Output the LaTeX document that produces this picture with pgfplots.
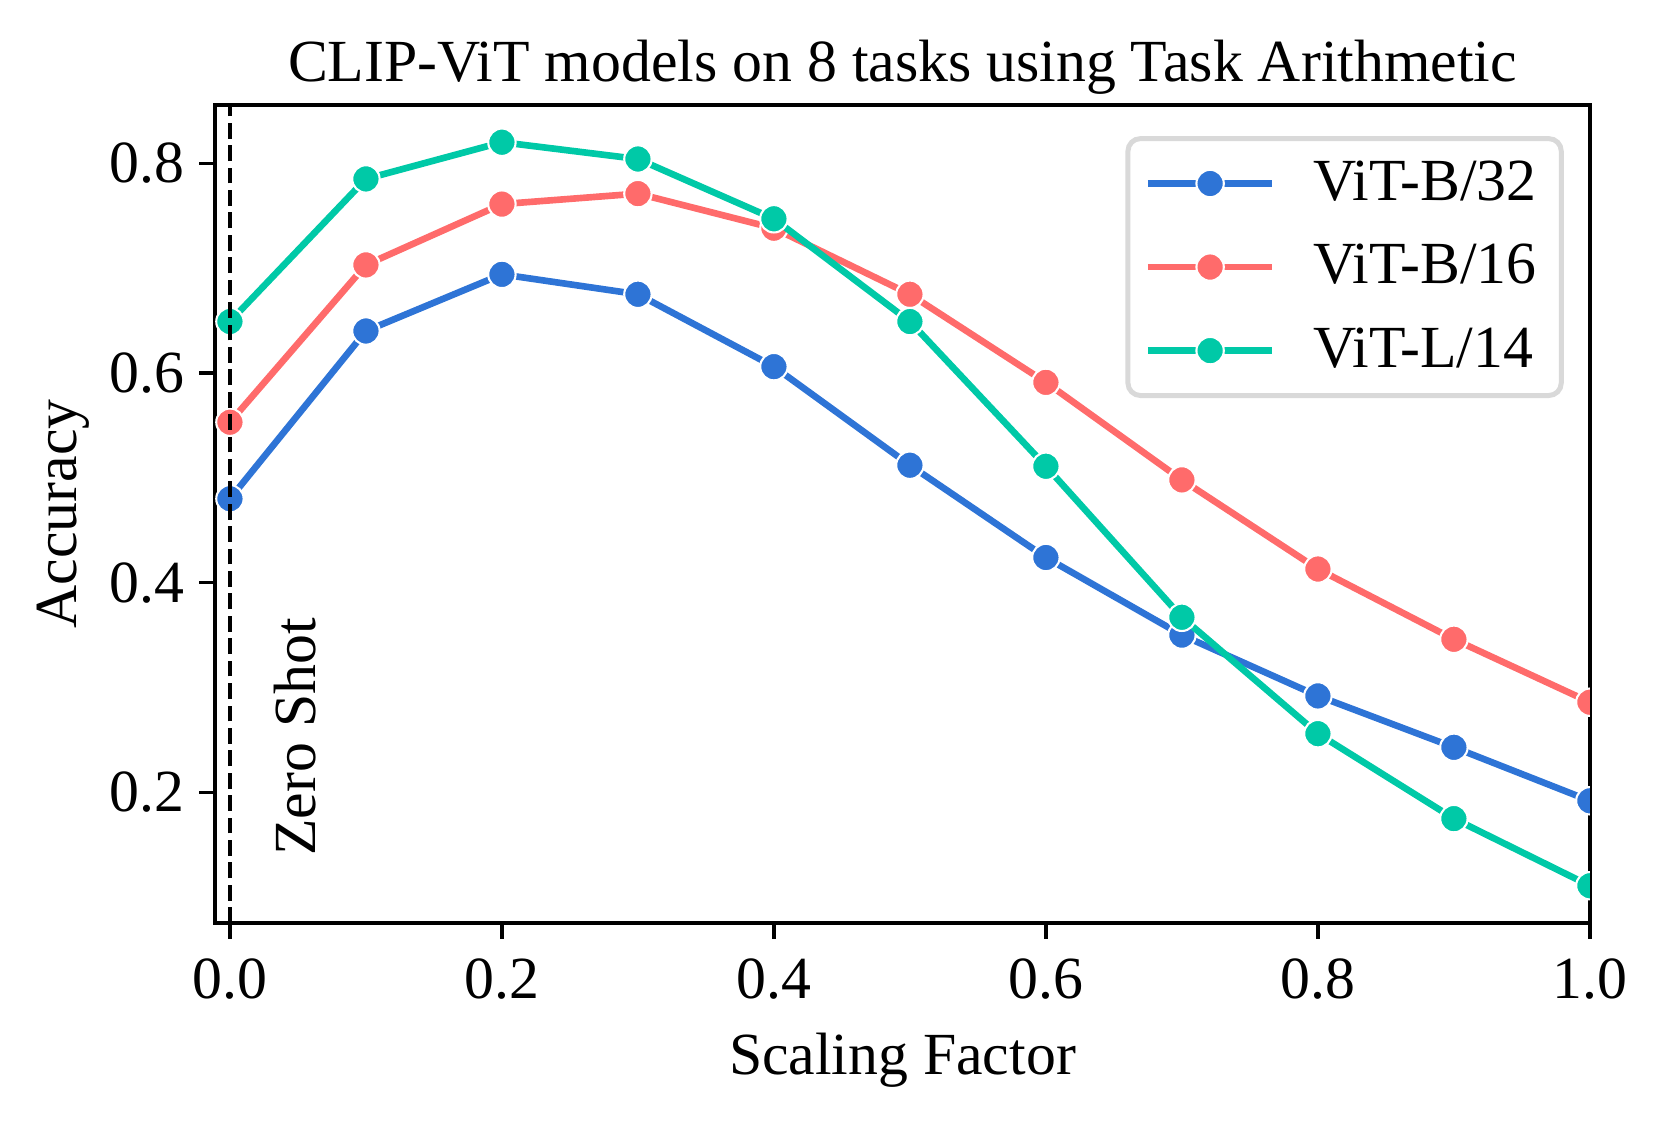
\documentclass[border=0pt]{standalone}
\usepackage{fontspec}
\setmainfont{Liberation Serif}
\usepackage{pgfplots}
\pgfplotsset{compat=1.18}
\definecolor{cblue}{RGB}{46,116,214}
\definecolor{cred}{RGB}{255,107,107}
\definecolor{cgreen}{RGB}{0,201,167}
\begin{document}
\begin{tikzpicture}
\begin{axis}[
  scale only axis,
  width=331.3pt, height=197.1pt,
  xmin=-0.011, xmax=1.0,
  ymin=0.0755, ymax=0.8555,
  font=\fontsize{14.4}{17.3}\selectfont,
  /pgf/number format/assume math mode=true,
  xtick={0,0.2,0.4,0.6,0.8,1.0},
  ytick={0.2,0.4,0.6,0.8},
  xticklabel style={yshift=-1.3pt, /pgf/number format/fixed, /pgf/number format/fixed zerofill, /pgf/number format/precision=1},
  yticklabel style={/pgf/number format/fixed, /pgf/number format/fixed zerofill, /pgf/number format/precision=1},
  scaled ticks=false,
  tick align=outside, tick pos=left,
  major tick length=3.8pt,
  every tick/.style={black, line width=0.8pt},
  axis line style={line width=0.8pt},
  title={CLIP-ViT models on 8 tasks using Task Arithmetic},
  title style={yshift=-7pt},
  xlabel={Scaling Factor},
  xlabel style={yshift=-1.3pt},
  ylabel={Accuracy},
  ylabel style={yshift=-2pt},
  clip marker paths=true,
  legend style={at={(1,1)}, xshift=-6.3pt, yshift=-7.5pt, anchor=north east,
    draw=black!15, line width=1.2pt, rounded corners=3pt,
    inner xsep=4pt, inner ysep=3.3pt, row sep=5.1pt,
    font=\fontsize{14.4}{17.3}\selectfont},
  legend cell align=left,
  legend image code/.code={
    \draw[#1, mark=none] (0pt,0pt) -- (30pt,0pt);
    \draw[#1, draw=none] plot coordinates {(15pt,0pt)};
    \path (37pt,0pt);
  },
  every axis plot/.append style={line width=1.6pt},
]
\addplot[cblue, mark=*, mark size=3.3pt, mark options={fill=cblue, draw=white, line width=0.5pt}] coordinates {
(0.0,0.480) (0.1,0.640) (0.2,0.694) (0.3,0.675) (0.4,0.606) (0.5,0.512)
(0.6,0.424) (0.7,0.350) (0.8,0.292) (0.9,0.243) (1.0,0.192)};
\addlegendentry{ViT-B/32}
\addplot[cred, mark=*, mark size=3.3pt, mark options={fill=cred, draw=white, line width=0.5pt}] coordinates {
(0.0,0.553) (0.1,0.703) (0.2,0.761) (0.3,0.771) (0.4,0.738) (0.5,0.675)
(0.6,0.591) (0.7,0.498) (0.8,0.413) (0.9,0.346) (1.0,0.286)};
\addlegendentry{ViT-B/16}
\addplot[cgreen, mark=*, mark size=3.3pt, mark options={fill=cgreen, draw=white, line width=0.5pt}] coordinates {
(0.0,0.649) (0.1,0.785) (0.2,0.820) (0.3,0.804) (0.4,0.747) (0.5,0.649)
(0.6,0.511) (0.7,0.367) (0.8,0.256) (0.9,0.175) (1.0,0.111)};
\addlegendentry{ViT-L/14}
\addplot[black, line width=1.1pt, dash pattern=on 3.8pt off 1.6pt, forget plot] coordinates {(0,0.0755) (0,0.8555)};
\node[rotate=90, anchor=west, inner sep=0pt] at (axis cs:0.048,0.139) {Zero Shot};
\end{axis}
\pgfresetboundingbox
\path ([shift={(-51.8pt,-47.5pt)}]current axis.south west) rectangle ([shift={(16.9pt,25.3pt)}]current axis.north east);
\end{tikzpicture}
\end{document}
